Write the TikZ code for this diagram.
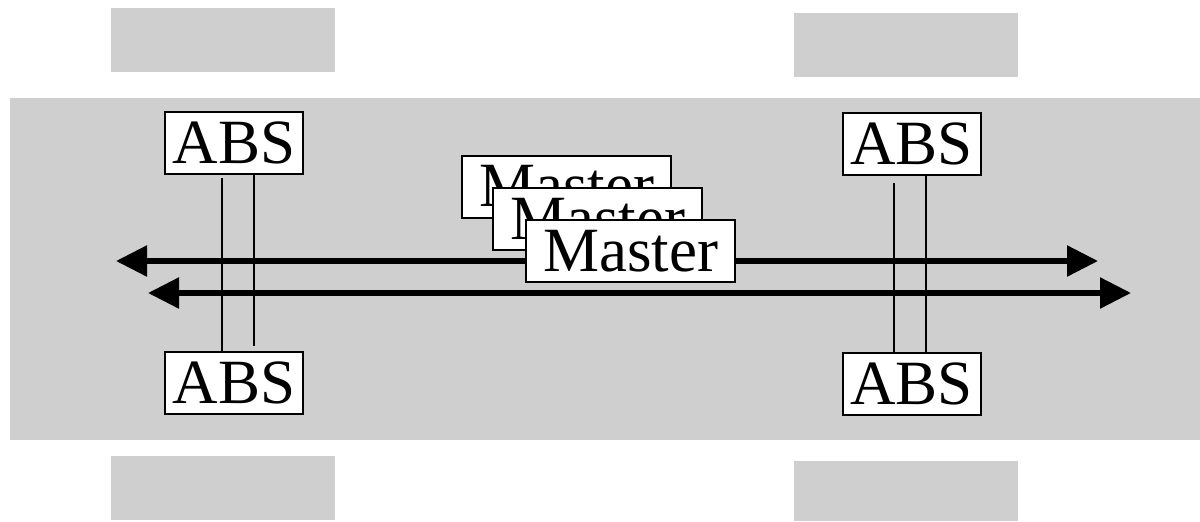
\documentclass[tikz,border=0pt]{standalone}
\usepackage{fontspec}
\setmainfont{Liberation Serif}
\usepackage{tikz}
\usetikzlibrary{arrows.meta}
\definecolor{chassis}{RGB}{207,207,207}
\tikzstyle{absbox}=[draw, fill=white, line width=1pt, inner sep=0pt,% white box around a label
minimum width=69pt, minimum height=31pt, font=\fontsize{31.5}{36}\selectfont]
\tikzstyle{mastbox}=[absbox, minimum width=104.5pt]
\tikzstyle{bus}=[{Triangle[length=15.5pt,width=15pt]}-{Triangle[length=15.5pt,width=15pt]}, line width=2.8pt]
\tikzstyle{wire}=[line width=1pt]

\begin{document}
\begin{tikzpicture}[x=0.5pt,y=-0.5pt]
\useasboundingbox (0,0) rectangle (1200,521);
% car body and wheels
\fill[chassis] (10,98) rectangle (1200,440);
\fill[chassis] (111,8) rectangle (335,72);
\fill[chassis] (794,13) rectangle (1018,77);
\fill[chassis] (111,456) rectangle (335,520);
\fill[chassis] (794,461) rectangle (1018,521);
% the two bus lines
\coordinate (bl1) at (116,261);
\coordinate (br1) at (1098,261);
\coordinate (bl2) at (148,293);
\coordinate (br2) at (1131,293);
\draw[bus] (bl1) -- (br1);
\draw[bus] (bl2) -- (br2);
% wheel controllers
\node[absbox] (a1) at (234,143) {ABS};
\node[absbox] (a2) at (911.5,144) {ABS};
\node[absbox] (a3) at (234,383) {ABS};
\node[absbox] (a4) at (911.5,383.5) {ABS};
\coordinate (v1) at (222,178);
\coordinate (v2) at (254,346);
\coordinate (v3) at (894,183);
\coordinate (v4) at (926,300);
\draw[wire] (v1) -- (v1 |- a3.north);
\draw[wire] (v2 |- a1.south) -- (v2);
\draw[wire] (v3) -- (v3 |- a4.north);
\draw[wire] (v4 |- a2.south) -- (v4 |- a4.north);
% stacked masters
\node[mastbox] (m1) at (566.5,186.5) {Master};
\node[mastbox] (m2) at (597.5,219) {Master};
\node[mastbox] (m3) at (630.5,251) {Master};
\end{tikzpicture}
\end{document}
